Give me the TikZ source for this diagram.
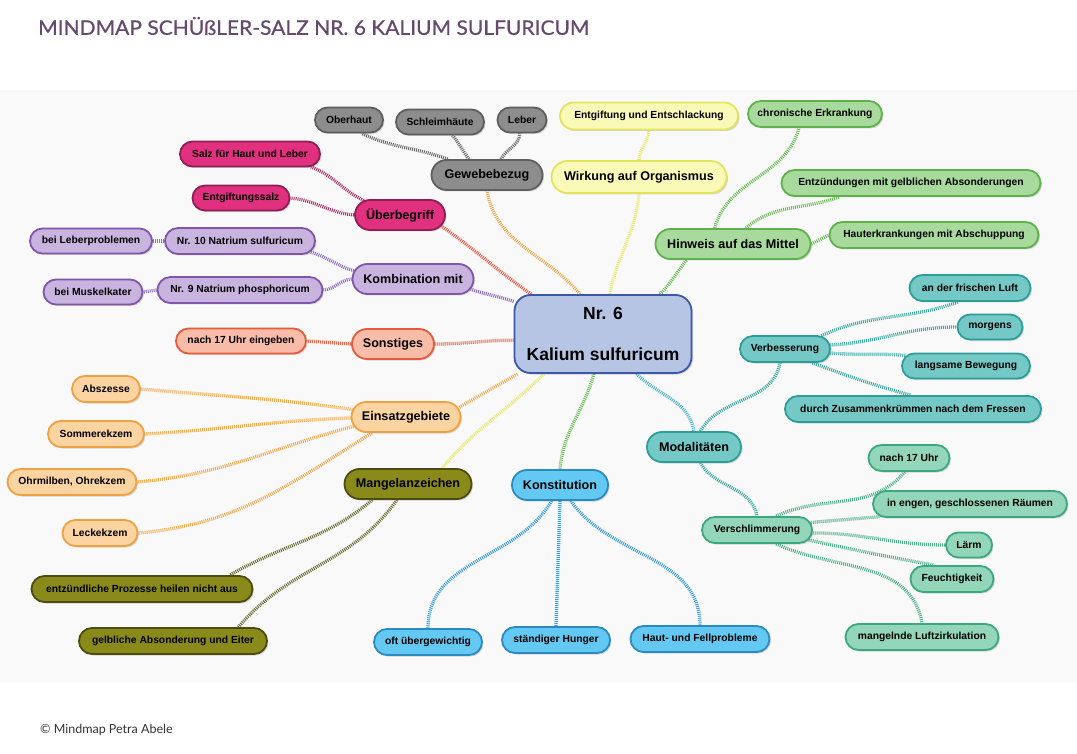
\documentclass[tikz,border=0pt]{standalone}
\usepackage{fontspec}
\setmainfont{Liberation Sans}
\newfontfamily\titlefont[FakeBold=0.7]{Lato}
\newfontfamily\footfont{Lato}
\usetikzlibrary{shapes.misc,shadows,backgrounds}
\definecolor{titlec}{HTML}{66496F}
\definecolor{footc}{HTML}{333333}
\definecolor{panelc}{HTML}{F9F9F9}
\definecolor{cGyF}{HTML}{8D8D8D}\definecolor{cGyB}{HTML}{5E5E5E}\definecolor{lGy}{HTML}{6A6A6A}
\definecolor{cMaF}{HTML}{E0307F}\definecolor{cMaB}{HTML}{8E1F50}\definecolor{lMa}{HTML}{A83268}
\definecolor{cPuF}{HTML}{C9B3DF}\definecolor{cPuB}{HTML}{7F56A9}\definecolor{lPu}{HTML}{8F6FC0}
\definecolor{cSaF}{HTML}{F9BCA8}\definecolor{cSaB}{HTML}{E35B3C}\definecolor{lSa}{HTML}{E8664A}
\definecolor{cOrF}{HTML}{FCD4A2}\definecolor{cOrB}{HTML}{F0A142}\definecolor{lOr}{HTML}{F2AA52}
\definecolor{cOlF}{HTML}{8A8A1A}\definecolor{cOlB}{HTML}{4C4C10}\definecolor{lOl}{HTML}{6C6C36}
\definecolor{cBlF}{HTML}{63C9F2}\definecolor{cBlB}{HTML}{2A8BC1}\definecolor{lBl}{HTML}{3C9ED6}
\definecolor{cTeF}{HTML}{74C9C6}\definecolor{cTeB}{HTML}{2C9E9A}\definecolor{lTe}{HTML}{3DAAA6}
\definecolor{cMiF}{HTML}{94D6B9}\definecolor{cMiB}{HTML}{3CA880}\definecolor{lMi}{HTML}{50B28C}
\definecolor{cGrF}{HTML}{A7DA9C}\definecolor{cGrB}{HTML}{5EB24B}\definecolor{lGr}{HTML}{6DBF57}
\definecolor{cYeF}{HTML}{FAFAB8}\definecolor{cYeB}{HTML}{E4E45C}\definecolor{lYe}{HTML}{E8E86A}
\definecolor{cCeF}{HTML}{B7C5E5}\definecolor{cCeB}{HTML}{3B57A9}
\definecolor{lRed}{HTML}{E85C48}\definecolor{lMod}{HTML}{4FB6CF}
\tikzset{
  nd/.style={rounded rectangle, draw, line width=1.8pt, inner sep=0pt,
    font=\bfseries\fontsize{10.3}{12}\selectfont,
    drop shadow={shadow xshift=1.5pt,shadow yshift=-1.5pt,opacity=0.3}},
  mn/.style={nd, font=\bfseries\fontsize{12.6}{15}\selectfont},
  sz/.style 2 args={minimum width=#1pt, minimum height=#2pt},
  gy/.style={fill=cGyF, draw=cGyB}, ma/.style={fill=cMaF, draw=cMaB},
  pu/.style={fill=cPuF, draw=cPuB}, sa/.style={fill=cSaF, draw=cSaB},
  orr/.style={fill=cOrF, draw=cOrB}, ol/.style={fill=cOlF, draw=cOlB},
  bl/.style={fill=cBlF, draw=cBlB}, te/.style={fill=cTeF, draw=cTeB},
  mi/.style={fill=cMiF, draw=cMiB}, gr/.style={fill=cGrF, draw=cGrB},
  ye/.style={fill=cYeF, draw=cYeB},
  lk/.style={line width=3.3pt, dash pattern=on 1pt off 1pt}
}
\begin{document}
\begin{tikzpicture}[x=1pt,y=-1pt]
\useasboundingbox (0,0) rectangle (1077,754);
% title and footer
\node[anchor=west, inner sep=0pt, text=titlec, font=\titlefont\fontsize{20}{24}\selectfont, xscale=1.05] (title) at (38,26) {MINDMAP SCHÜßLER-SALZ NR.~6 KALIUM SULFURICUM};
\node[anchor=west, inner sep=0pt, text=footc, font=\footfont\fontsize{12.5}{15}\selectfont] (foot) at (40,730) {© Mindmap Petra Abele};
% center
\node[rectangle, rounded corners=16pt, draw=cCeB, fill=cCeF, line width=1.8pt, minimum width=177pt, minimum height=78pt, align=center, inner sep=0pt, font=\bfseries\fontsize{17.5}{41}\selectfont, drop shadow={shadow xshift=1.5pt,shadow yshift=-1.5pt,opacity=0.3}] (c) at (603,334) {Nr. 6\\Kalium sulfuricum};
% gray
\node[mn,gy,sz={111}{30}] (gew) at (487,175) {Gewebebezug};
\node[nd,gy,sz={68}{25}] (ober) at (349,120) {Oberhaut};
\node[nd,gy,sz={88}{25}] (schleim) at (440,122) {Schleimhäute};
\node[nd,gy,sz={49}{25}] (leber) at (522,120) {Leber};
% magenta
\node[mn,ma,sz={90}{30}] (ueber) at (400,215) {Überbegriff};
\node[nd,ma,sz={140}{25}] (salz) at (250,154) {Salz für Haut und Leber};
\node[nd,ma,sz={97}{25}] (entg) at (241,198) {Entgiftungssalz};
% purple
\node[mn,pu,sz={121}{30}] (komb) at (413,279) {Kombination mit};
\node[nd,pu,sz={150}{26}] (nr10) at (240,241) {Nr. 10 Natrium sulfuricum};
\node[nd,pu,sz={122}{25}] (blp) at (91,241) {bei Leberproblemen};
\node[nd,pu,sz={165}{26}] (nr9) at (240,290) {Nr. 9 Natrium phosphoricum};
\node[nd,pu,sz={99}{25}] (muskel) at (93,292) {bei Muskelkater};
% salmon
\node[mn,sa,sz={82}{30}] (sonst) at (393,344) {Sonstiges};
\node[nd,sa,sz={130}{25}] (nse) at (241,341) {nach 17 Uhr eingeben};
% orange
\node[mn,orr,sz={109}{30}] (einsatz) at (406,417) {Einsatzgebiete};
\node[nd,orr,sz={68}{26}] (absz) at (106,389) {Abszesse};
\node[nd,orr,sz={96}{26}] (sommer) at (96,434) {Sommerekzem};
\node[nd,orr,sz={129}{26}] (ohr) at (72,482) {Ohrmilben, Ohrekzem};
\node[nd,orr,sz={75}{26}] (leck) at (100,533) {Leckekzem};
% olive
\node[mn,ol,sz={127}{30}] (mangel) at (408,484) {Mangelanzeichen};
\node[nd,ol,sz={221}{26}] (entz) at (142,589) {entzündliche Prozesse heilen nicht aus};
\node[nd,ol,sz={188}{26}] (gelb) at (173,641) {gelbliche Absonderung und Eiter};
% blue
\node[mn,bl,sz={96}{30}] (konst) at (560,485) {Konstitution};
\node[nd,bl,sz={108}{26}] (oft) at (428,642) {oft übergewichtig};
\node[nd,bl,sz={108}{26}] (staend) at (556,640) {ständiger Hunger};
\node[nd,bl,sz={139}{26}] (hautf) at (700,639) {Haut- und Fellprobleme};
% teal
\node[mn,te,sz={94}{30}] (modal) at (694,447) {Modalitäten};
\node[nd,te,sz={90}{26}] (verb) at (785,349) {Verbesserung};
\node[nd,te,sz={121}{26}] (luft) at (970,288) {an der frischen Luft};
\node[nd,te,sz={65}{25}] (morgens) at (990,327) {morgens};
\node[nd,te,sz={128}{25}] (langsam) at (966,366) {langsame Bewegung};
\node[nd,te,sz={256}{26}] (durch) at (913,409) {durch Zusammenkrümmen nach dem Fressen};
% mint
\node[nd,mi,sz={110}{26}] (versch) at (757,530) {Verschlimmerung};
\node[nd,mi,sz={81}{26}] (n17) at (909,458) {nach 17 Uhr};
\node[nd,mi,sz={194}{26}] (engen) at (970,504) {in engen, geschlossenen Räumen};
\node[nd,mi,sz={46}{25}] (laerm) at (969,545) {Lärm};
\node[nd,mi,sz={83}{26}] (feucht) at (952,579) {Feuchtigkeit};
\node[nd,mi,sz={153}{26}] (mangelnd) at (922,637) {mangelnde Luftzirkulation};
% green
\node[mn,gr,sz={155}{30}] (hinweis) at (733,244) {Hinweis auf das Mittel};
\node[nd,gr,sz={134}{26}] (chron) at (815,114) {chronische Erkrankung};
\node[nd,gr,sz={259}{26}] (entz2) at (911,183) {Entzündungen mit gelblichen Absonderungen};
\node[nd,gr,sz={209}{26}] (hauter) at (934,235) {Hauterkrankungen mit Abschuppung};
% yellow
\node[mn,ye,sz={175}{32}] (wirkung) at (639,177) {Wirkung auf Organismus};
\node[nd,ye,sz={178}{27}] (entgift) at (649,116) {Entgiftung und Entschlackung};

\begin{scope}[on background layer]
\fill[panelc] (0,90) rectangle (1077,682);
% center links
\draw[lk,draw=lOr] (c.120) to[out=130,in=-80] (gew.south);
\draw[lk,draw=lRed] (c.151) to[out=145,in=-35] (ueber.-15);
\draw[lk,draw=lPu] (c.160) to[out=160,in=-20] (komb.-10);
\draw[lk,draw=lSa] (c.184) to[out=180,in=0] (sonst.east);
\draw[lk,draw=lOr] (c.205) to[out=210,in=30] (einsatz.10);
\draw[lk,draw=lYe] (c.214) to[out=225,in=50] (mangel.25);
\draw[lk,draw=lGr] (c.257) to[out=-105,in=85] (konst.north);
\draw[lk,draw=lMod] (c.310) to[out=-45,in=100] (modal.north);
\draw[lk,draw=lGr] (c.35) to[out=45,in=-130] (hinweis.199);
\draw[lk,draw=lYe] (c.80) to[out=80,in=-95] (wirkung.south);
% gray
\draw[lk,draw=lGy] (gew.158) to[out=160,in=-25] (ober.-47);
\draw[lk,draw=lGy] (gew.139) to[out=125,in=-50] (schleim.-47);
\draw[lk,draw=lGy] (gew.49) to[out=60,in=-95] (leber.-99);
% magenta
\draw[lk,draw=lMa] (ueber.158) to[out=155,in=-20] (salz.-12);
\draw[lk,draw=lMa] (ueber.west) to[out=175,in=-5] (entg.east);
% purple
\draw[lk,draw=lPu] (komb.172) to[out=165,in=-15] (nr10.-9);
\draw[lk,draw=lPu] (komb.west) to[out=185,in=5] (nr9.east);
\draw[lk,draw=lPu] (nr10.west) -- (blp.east);
\draw[lk,draw=lPu] (nr9.west) -- (muskel.east);
% salmon
\draw[lk,draw=lSa] (sonst.west) -- (nse.east);
% orange
\draw[lk,draw=lOr] (einsatz.172) to[out=172,in=-5] (absz.east);
\draw[lk,draw=lOr] (einsatz.181) to[out=182,in=3] (sommer.east);
\draw[lk,draw=lOr] (einsatz.190) to[out=195,in=5] (ohr.east);
\draw[lk,draw=lOr] (einsatz.205) to[out=212,in=5] (leck.east);
% olive
\draw[lk,draw=lOl] (mangel.204) to[out=220,in=30] (entz.9);
\draw[lk,draw=lOl] (mangel.235) to[out=235,in=50] (gelb.12);
% blue
\draw[lk,draw=lBl] (konst.242) to[out=-120,in=90] (oft.north);
\draw[lk,draw=lBl] (konst.south) -- (staend.north);
\draw[lk,draw=lBl] (konst.-56) to[out=-55,in=90] (hautf.north);
% teal
\draw[lk,draw=lTe] (modal.68) to[out=60,in=-100] (verb.250);
\draw[lk,draw=lTe] (modal.-68) to[out=-60,in=100] (versch.north);
\draw[lk,draw=lTe] (verb.20) to[out=25,in=-160] (luft.230);
\draw[lk,draw=lTe] (verb.5) to[out=3,in=180] (morgens.west);
\draw[lk,draw=lTe] (verb.-5) to[out=-5,in=175] (langsam.170);
\draw[lk,draw=lTe] (verb.-27) to[out=-20,in=165] (durch.100);
% mint
\draw[lk,draw=lMi] (versch.36) to[out=25,in=-130] (n17.253);
\draw[lk,draw=lMi] (versch.8) to[out=5,in=-175] (engen.188);
\draw[lk,draw=lMi] (versch.-3) to[out=0,in=180] (laerm.west);
\draw[lk,draw=lMi] (versch.-11) to[out=-12,in=170] (feucht.142);
\draw[lk,draw=lMi] (versch.-36) to[out=-25,in=100] (mangelnd.north);
% green
\draw[lk,draw=lGr] (hinweis.139) to[out=75,in=-105] (chron.221);
\draw[lk,draw=lGr] (hinweis.51) to[out=40,in=-160] (entz2.191);
\draw[lk,draw=lGr] (hinweis.east) -- (hauter.west);
% yellow
\draw[lk,draw=lYe] (wirkung.north) to[out=85,in=-95] (entgift.south);
\end{scope}
\end{tikzpicture}
\end{document}
